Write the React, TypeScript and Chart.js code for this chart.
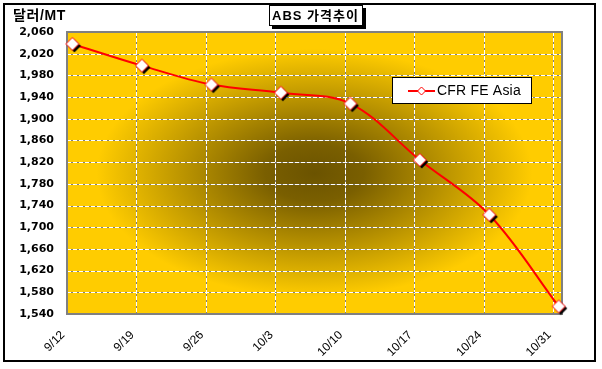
import React, { useEffect, useRef } from 'react';
import { Chart, registerables } from 'chart.js';

Chart.register(...registerables);

const X_LABELS = ['9/12', '9/19', '9/26', '10/3', '10/10', '10/17', '10/24', '10/31'];
const PRICES = [2038, 1998, 1963, 1948, 1928, 1824, 1723, 1554];
const Y_TICKS = [1540, 1580, 1620, 1660, 1700, 1740, 1780, 1820, 1860, 1900, 1940, 1980, 2020, 2060];
const SERIES_NAME = 'CFR FE Asia';
const TITLE = 'ABS 가격추이';
const UNIT = '달러/MT';
// data points sit slightly after each weekly grid line (date axis)
const POINT_SHIFT = 0.078;
const X_MAX = 7.125;

const FONT = '"Liberation Sans", "Noto Sans CJK KR", Arial, sans-serif';

function diamond(g: CanvasRenderingContext2D, cx: number, cy: number, r: number) {
  g.beginPath();
  g.moveTo(cx, cy - r);
  g.lineTo(cx + r, cy);
  g.lineTo(cx, cy + r);
  g.lineTo(cx - r, cy);
  g.closePath();
}

function makeMarker() {
  const c = document.createElement('canvas');
  c.width = 20;
  c.height = 20;
  const g = c.getContext('2d')!;
  diamond(g, 12, 12, 6.5);
  g.fillStyle = '#000';
  g.fill();
  diamond(g, 10, 10, 6.5);
  g.fillStyle = '#fff';
  g.fill();
  g.strokeStyle = '#ff0000';
  g.lineWidth = 1;
  g.stroke();
  return c;
}

const decor = {
  id: 'decor',
  beforeDraw(chart: any) {
    const { ctx, chartArea: a, scales } = chart;
    const w = a.right - a.left;
    const h = a.bottom - a.top;
    ctx.save();
    // outer frame
    ctx.fillStyle = '#fff';
    ctx.fillRect(0, 0, chart.width, chart.height);
    ctx.strokeStyle = '#000';
    ctx.lineWidth = 2;
    ctx.strokeRect(4, 4, 591, 357);

    // plot background gradient
    ctx.save();
    ctx.beginPath();
    ctx.rect(a.left, a.top, w, h);
    ctx.clip();
    ctx.translate((a.left + a.right) / 2, (a.top + a.bottom) / 2);
    ctx.scale(1, h / w);
    const r = w / 2;
    const grad = ctx.createRadialGradient(0, 0, 0, 0, 0, r);
    grad.addColorStop(0, '#6b5300');
    grad.addColorStop(0.2, '#7a5f00');
    grad.addColorStop(0.88, '#ffcc00');
    grad.addColorStop(1, '#ffcc00');
    ctx.fillStyle = grad;
    ctx.fillRect(-w / 2, -w / 2, w, w);
    ctx.restore();

    // grid lines
    const xs = scales.x;
    const ys = scales.y;
    const lines: [number, number, number, number][] = [];
    xs.ticks.forEach((t: any) => {
      const p = Math.round(xs.getPixelForValue(t.value)) + 0.5;
      if (p > a.left + 2 && p < a.right - 2) lines.push([p, a.top, p, a.bottom]);
    });
    ys.ticks.forEach((t: any) => {
      const p = Math.round(ys.getPixelForValue(t.value)) + 0.5;
      if (p > a.top + 2 && p < a.bottom - 2) lines.push([a.left, p, a.right, p]);
    });
    ctx.lineWidth = 1;
    for (const [x1, y1, x2, y2] of lines) {
      ctx.setLineDash([]);
      ctx.strokeStyle = '#808080';
      ctx.beginPath();
      ctx.moveTo(x1, y1);
      ctx.lineTo(x2, y2);
      ctx.stroke();
      ctx.setLineDash([4, 2]);
      ctx.strokeStyle = '#ffffff';
      ctx.beginPath();
      ctx.moveTo(x1, y1);
      ctx.lineTo(x2, y2);
      ctx.stroke();
    }
    ctx.setLineDash([]);
    // plot border
    ctx.strokeStyle = '#808080';
    ctx.lineWidth = 2;
    ctx.strokeRect(a.left, a.top, w, h);
    ctx.restore();
  },
  afterDraw(chart: any) {
    const { ctx } = chart;
    ctx.save();
    // unit label
    ctx.fillStyle = '#000';
    ctx.font = `bold 14px ${FONT}`;
    ctx.letterSpacing = '0.6px';
    ctx.textAlign = 'left';
    ctx.textBaseline = 'middle';
    ctx.fillText(UNIT, 13, 16);

    // title box with shadow
    ctx.fillStyle = '#000';
    ctx.fillRect(272, 8, 94, 21);
    ctx.fillStyle = '#fff';
    ctx.fillRect(269, 5, 94, 21);
    ctx.strokeStyle = '#000';
    ctx.lineWidth = 1;
    ctx.strokeRect(269.5, 5.5, 93, 20);
    ctx.fillStyle = '#000';
    ctx.font = `bold 13px ${FONT}`;
    ctx.letterSpacing = '1px';
    ctx.textAlign = 'left';
    ctx.textBaseline = 'middle';
    ctx.fillText(TITLE, 272, 16);

    // legend
    ctx.letterSpacing = '0px';
    ctx.fillStyle = '#fff';
    ctx.fillRect(392, 77, 140, 27);
    ctx.strokeStyle = '#000';
    ctx.lineWidth = 1;
    ctx.strokeRect(392.5, 77.5, 139, 26);
    ctx.strokeStyle = '#ff0000';
    ctx.lineWidth = 2;
    ctx.beginPath();
    ctx.moveTo(408, 91);
    ctx.lineTo(435, 91);
    ctx.stroke();
    diamond(ctx, 421.5, 91, 4);
    ctx.fillStyle = '#fff';
    ctx.fill();
    ctx.lineWidth = 1;
    ctx.stroke();
    ctx.fillStyle = '#000';
    ctx.font = `14px ${FONT}`;
    ctx.letterSpacing = '0.2px';
    ctx.textAlign = 'left';
    ctx.textBaseline = 'middle';
    ctx.fillText(chart.data.datasets[0].label, 437, 91.5);
    ctx.restore();
  },
};

export default function App() {
  const ref = useRef<HTMLCanvasElement | null>(null);
  useEffect(() => {
    if (!ref.current) return;
    const marker = makeMarker();
    const chart = new Chart(ref.current, {
      type: 'line',
      data: {
        datasets: [
          {
            label: SERIES_NAME,
            data: PRICES.map((v, i) => ({ x: i + POINT_SHIFT, y: v })),
            borderColor: '#ff0000',
            backgroundColor: '#ffffff',
            borderWidth: 2,
            tension: 0.35,
            pointStyle: marker as any,
            pointRadius: 7,
            clip: false as any,
            fill: false,
          },
        ],
      },
      options: {
        responsive: false,
        animation: false,
        devicePixelRatio: 1,
        layout: { padding: { left: 0, top: 32, right: 40, bottom: 0 } },
        plugins: {
          legend: { display: false },
          tooltip: { enabled: false },
          title: { display: false },
        },
        scales: {
          x: {
            type: 'linear',
            min: 0,
            max: X_MAX,
            grid: { display: false, drawTicks: false },
            border: { display: false },
            afterBuildTicks: (s: any) => {
              s.ticks = X_LABELS.map((_, i) => ({ value: i }));
            },
            afterFit: (s: any) => {
              s.height = 55;
            },
            ticks: {
              autoSkip: false,
              minRotation: 45,
              maxRotation: 45,
              padding: 14,
              labelOffset: -4,
              color: '#000',
              font: { family: FONT, size: 12 },
              callback: (_v: any, i: number) => X_LABELS[i] ?? '',
            },
          },
          y: {
            min: 1540,
            max: 2060,
            grid: { display: false, drawTicks: false },
            border: { display: false },
            afterBuildTicks: (s: any) => {
              s.ticks = Y_TICKS.map((v) => ({ value: v }));
            },
            afterFit: (s: any) => {
              s.width = 67;
            },
            ticks: {
              padding: 13,
              color: '#000',
              font: { family: '"DejaVu Sans", sans-serif', size: 11, weight: 'bold' },
              callback: (v: any) => Number(v).toLocaleString('en-US'),
            },
          },
        },
      },
      plugins: [decor],
    });
    return () => chart.destroy();
  }, []);
  return (
    <div style={{ position: 'absolute', left: 0, top: 0, width: 602, height: 369 }}>
      <canvas ref={ref} width={602} height={369} style={{ display: 'block' }} />
    </div>
  );
}
